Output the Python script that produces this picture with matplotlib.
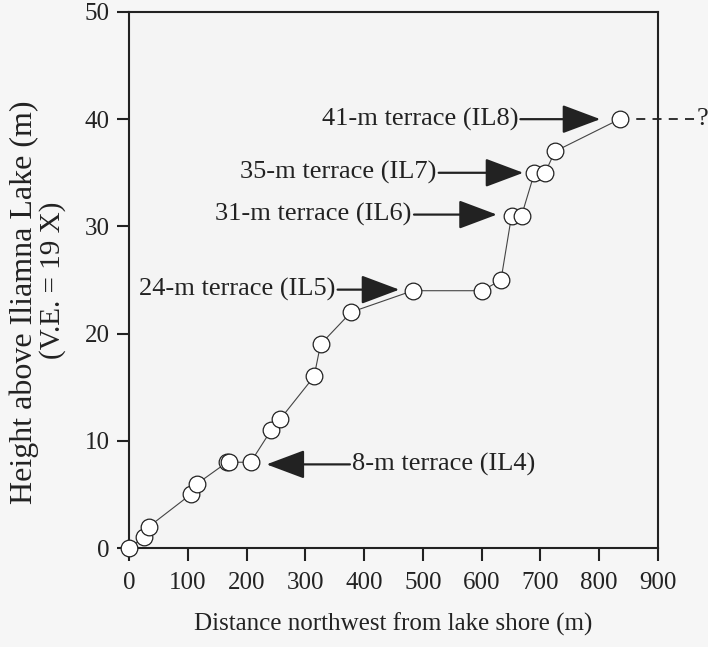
import numpy as np
import matplotlib.pyplot as plt

# profile points (distance m, height m)
dist = [0, 25, 34, 105, 116, 167, 171, 207, 242, 257, 315, 326, 378,
        483, 601, 633, 651, 668, 690, 708, 725, 835]
height = [0, 1, 2, 5, 6, 8, 8, 8, 11, 12, 16, 19, 22,
          24, 24, 25, 31, 31, 35, 35, 37, 40]

# terrace labels: text, arrow tip (x, y), arrow tail x, text anchor x
terr_labels = ["41-m terrace (IL8)", "35-m terrace (IL7)", "31-m terrace (IL6)",
               "24-m terrace (IL5)", "8-m terrace (IL4)"]
terr_tip_x = [802, 671, 626, 460, 234]
terr_tip_y = [40, 35, 31.1, 24.1, 7.8]
terr_tail_x = [666, 527, 485, 355, 376]
terr_text_x = [662, 523, 481, 351, 380]

xticks = [0, 100, 200, 300, 400, 500, 600, 700, 800, 900]
yticks = [0, 10, 20, 30, 40, 50]

ink = '#222222'
plt.rcParams['font.family'] = ['Liberation Serif', 'DejaVu Serif']

fig = plt.figure(figsize=(7.08, 6.47), dpi=100, facecolor='#f6f6f6')
ax = fig.add_axes([0.1822, 0.153, 0.747, 0.8285])
ax.set_facecolor('#f4f4f4')

ax.plot(dist, height, color='#444444', lw=0.8, marker='o', ms=12,
        mfc='white', mec=ink, mew=0.9, zorder=3, clip_on=False)

# dashed continuation beyond last point
ax.plot([dist[-1], 963], [height[-1], height[-1]], color=ink, lw=1.3,
        ls=(0, (5, 4)), clip_on=False, zorder=2)
ax.text(966, 40, '?', fontsize=19, color=ink, va='center', ha='left')

for lab, tx, ty, tl, tt in zip(terr_labels, terr_tip_x, terr_tip_y,
                               terr_tail_x, terr_text_x):
    ax.annotate('', xy=(tx, ty), xytext=(tl, ty),
                arrowprops=dict(arrowstyle='-|>,head_length=2.4,head_width=0.9',
                                mutation_scale=10, color=ink, lw=1.6,
                                shrinkA=0, shrinkB=0))
    if tt < tx:
        ax.text(tt, ty, lab, fontsize=19, color=ink, ha='right', va='center')
    else:
        ax.text(tt, ty, lab, fontsize=19, color=ink, ha='left', va='center')

ax.set_xlim(0, 900)
ax.set_ylim(0, 50)
ax.set_xticks(xticks)
ax.set_yticks(yticks)
ax.tick_params(direction='out', length=9, width=1.5, colors=ink,
               labelsize=18, pad=5)
ax.tick_params(axis='x', pad=8)
for s in ax.spines.values():
    s.set_linewidth(1.5)
    s.set_color(ink)

ax.set_xlabel('Distance northwest from lake shore (m)', fontsize=18,
              color=ink, labelpad=14)

# y label in two lines of slightly different size
fig.text(24 / 708, 1 - 302 / 647, 'Height above Iliamna Lake (m)', fontsize=23,
         color=ink, rotation=90, ha='center', va='center')
fig.text(53 / 708, 1 - 280 / 647, '(V.E. = 19 X)', fontsize=21,
         color=ink, rotation=90, ha='center', va='center')

fig.savefig('out.png', dpi=100, facecolor=fig.get_facecolor())
